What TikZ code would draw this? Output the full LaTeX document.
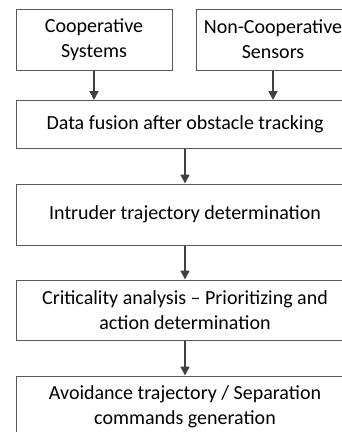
\documentclass[tikz,border=0pt]{standalone}
\usepackage{fontspec}
\setmainfont{Carlito}
\usetikzlibrary{arrows.meta}
\definecolor{boxgray}{HTML}{595959}
\definecolor{arrowgray}{HTML}{404040}
\begin{document}
\begin{tikzpicture}[x=1pt, y=-1pt, >={Triangle[length=9pt,width=9pt]},
  stage/.style={draw=boxgray, line width=1pt, fill=white, align=center,
    inner sep=0pt, font=\fontsize{20}{25}\selectfont},
  flow/.style={->, arrowgray, line width=1.4pt}]
  \clip (0,0) rectangle (342,432);
  \fill[white] (0,0) rectangle (342,432);

  \node[stage, minimum width=156pt, minimum height=61pt] (coop) at (94,39.5) {Cooperative\\Systems};
  \node[stage, minimum width=154pt, minimum height=61pt] (noncoop) at (273,39.5) {Non-Cooperative\\Sensors};
  \node[stage, minimum width=338pt, minimum height=48pt] (fusion) at (185,124.5) {Data fusion after obstacle tracking};
  \node[stage, minimum width=338pt, minimum height=61pt] (intruder) at (185,214.5) {Intruder trajectory determination};
  \node[stage, minimum width=338pt, minimum height=60pt] (critical) at (185,310) {Criticality analysis -- Prioritizing and\\action determination};
  \node[stage, minimum width=338pt, minimum height=61pt] (avoid) at (185,406.5) {Avoidance trajectory / Separation\\commands generation};

  \draw[flow] (coop.south) -- (coop.south |- fusion.north);
  \draw[flow] (noncoop.south) -- (noncoop.south |- fusion.north);
  \draw[flow] (fusion) -- (intruder);
  \draw[flow] (intruder) -- (critical);
  \draw[flow] (critical) -- (avoid);
\end{tikzpicture}
\end{document}
